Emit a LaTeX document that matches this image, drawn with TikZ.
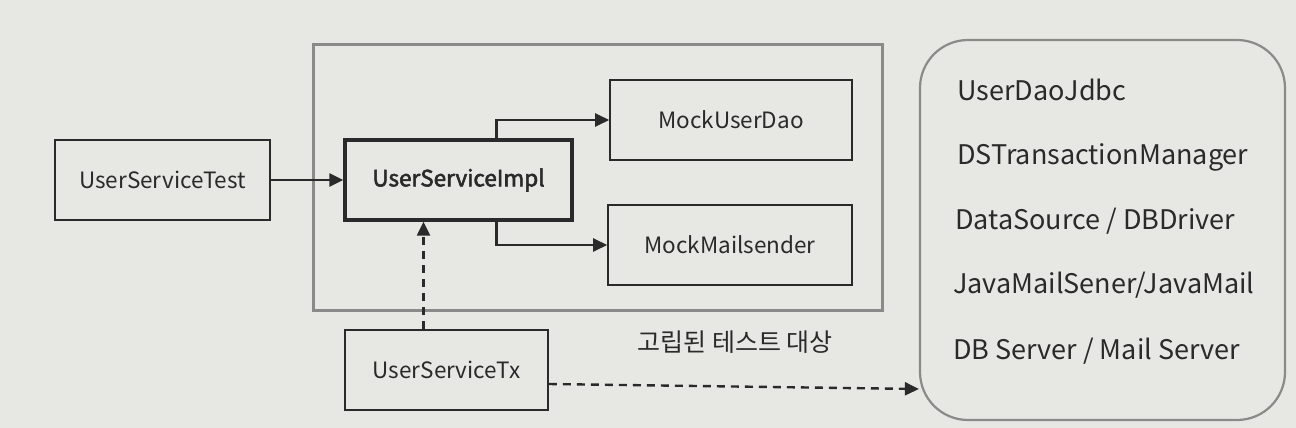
\documentclass[tikz,border=0pt]{standalone}
\usepackage{fontspec}
\setmainfont{Noto Sans CJK KR}[AutoFakeBold=2.5]
\newfontfamily\krfont{Noto Sans CJK KR}
\usetikzlibrary{arrows.meta,positioning}
\definecolor{paper}{HTML}{E7E7E3}
\definecolor{ink}{HTML}{2A2A2A}
\definecolor{frame}{HTML}{8A8A88}
\begin{document}
\begin{tikzpicture}[x=1pt,y=-1pt,
  box/.style={draw=ink,line width=1.6pt,minimum width=#1,minimum height=80pt,inner sep=0pt,font=\fontsize{22.5}{26}\selectfont,text=ink},
  box/.default=215pt,
  conn/.style={draw=ink,line width=2.4pt,-{Triangle[length=14pt,width=13pt]}},
  dconn/.style={conn,dash pattern=on 8pt off 6pt},
  item/.style={anchor=west,font=\fontsize{27}{30}\selectfont,text=ink,inner sep=0pt}]
\useasboundingbox[fill=paper] (0,0) rectangle (1296,428);
% isolated frame
\node[draw=frame,line width=3pt,minimum width=569pt,minimum height=265pt,inner sep=0pt] (frame) at (597.5,177.5) {};
\node[font=\krfont\fontsize{25}{28}\selectfont,text=ink] (flabel) at (735,342) {고립된 테스트 대상};
% nodes
\node[box=215pt] (test) at (162.5,180) {UserServiceTest};
\node[box=227pt,line width=3.4pt,font=\bfseries\fontsize{22.5}{26}\selectfont] (impl) at (458.5,180) {UserServiceImpl};
\node[box=242pt] (dao) at (731,120) {MockUserDao};
\node[box=244pt] (mail) at (730,245) {MockMailsender};
\node[box=203pt] (tx) at (446.5,370) {UserServiceTx};
% right rounded box
\node[draw=frame,line width=2.2pt,rounded corners=48pt,minimum width=365pt,minimum height=380pt,inner sep=0pt] (res) at (1102.5,230) {};
\node[item] (r1) at (957,90) {UserDaoJdbc};
\node[item] (r2) at (957,157) {DSTransactionManager};
\node[item] (r3) at (955,221) {DataSource / DBDriver};
\node[item] (r4) at (953,285) {JavaMailSener/JavaMail};
\node[item] (r5) at (953,351) {DB Server / Mail Server};
% connectors
\draw[conn] (test.east) -- (impl.west);
\draw[conn] ([xshift=38pt]impl.north) |- (dao.west);
\draw[conn] ([xshift=38pt]impl.south) |- (mail.west);
\draw[dconn] ([xshift=-23pt]tx.north) -- ([xshift=-35pt]impl.south);
\coordinate (rin) at (res.west |- 0,389);
\draw[dconn] ([yshift=-14pt]tx.east) -- (rin);
\end{tikzpicture}
\end{document}
